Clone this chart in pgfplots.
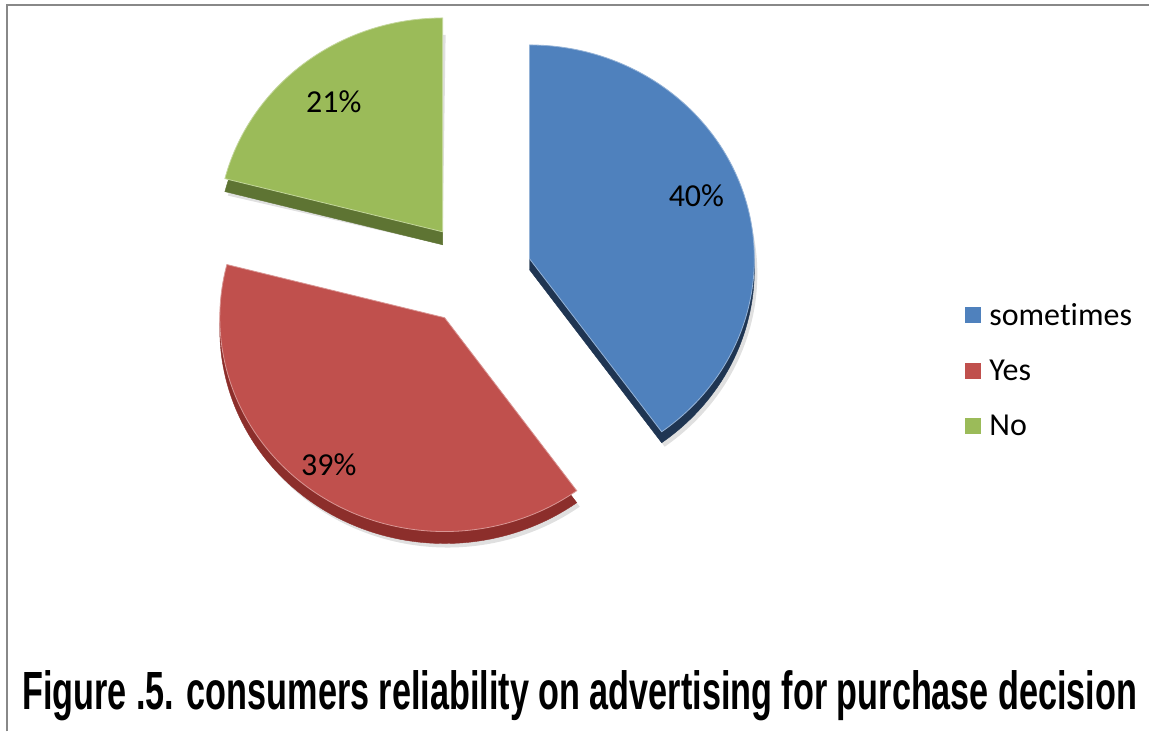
\documentclass[border=0pt]{standalone}
\usepackage{graphicx}
\usepackage{pgfplots}
\pgfplotsset{compat=1.18}
\usepackage{pgfplotstable}
\usepackage{fontspec}
\setmainfont{Carlito}[Ligatures={NoCommon,NoDiscretionary}]
\newfontfamily\titlefont{Liberation Sans}
\definecolor{pblue}{HTML}{4F81BD}
\definecolor{pred}{HTML}{C0504D}
\definecolor{pgreen}{HTML}{9BBB59}
\definecolor{dblue}{HTML}{1F3552}
\definecolor{dred}{HTML}{8C2E2B}
\definecolor{dgreen}{HTML}{5E7433}
\definecolor{frame}{HTML}{888888}

\pgfplotstableread{
label value
sometimes 40
Yes 39
No 21
}\piedata

% cx, cy, shadow cy, from, to, top colour, side colour
\newcommand{\pieslice}[7]{%
  \addplot[forget plot, fill=black, fill opacity=0.12, draw=none, domain=#4:#5, samples=120, variable=\t]
    ({#1+3+225*cos(\t)},{#3+4-214*sin(\t)}) -- (axis cs:#1,#3) -- cycle;
  \addplot[forget plot, fill=#7, draw=#7, domain=#4:#5, samples=120, variable=\t]
    ({#1+225*cos(\t)},{#3-214*sin(\t)}) -- (axis cs:#1,#3) -- cycle;
  \addplot[forget plot, fill=#6, draw=#6!60!white, line width=0.8pt, domain=#4:#5, samples=120, variable=\t]
    ({#1+225*cos(\t)},{#2-214*sin(\t)}) -- (axis cs:#1,#2) -- cycle;
}

\begin{document}
\begin{tikzpicture}
\pgfplotstablegetelem{0}{value}\of\piedata \let\vA\pgfplotsretval
\pgfplotstablegetelem{1}{value}\of\piedata \let\vB\pgfplotsretval
\pgfplotstablegetelem{2}{value}\of\piedata \let\vC\pgfplotsretval
\pgfmathsetmacro{\aA}{90}
\pgfmathsetmacro{\aB}{\aA-3.6*\vA}
\pgfmathsetmacro{\aC}{\aB-3.6*\vB}
\pgfmathsetmacro{\aD}{\aC-3.6*\vC}
\begin{axis}[
  width=1150pt, height=732pt, scale only axis,
  xmin=0, xmax=1150, ymin=0, ymax=732, y dir=reverse,
  hide axis, clip=false,
  legend image code/.code={\fill[#1, draw=none] (0pt,-8pt) rectangle (16pt,8pt);},
  legend style={draw=none, fill=none, at={(axis cs:966,370.5)}, anchor=west,
    font=\fontsize{32}{38}\selectfont, row sep=29pt, inner sep=0pt,
    /tikz/every odd column/.append style={column sep=6pt}},
  legend cell align=left,
]
\path (axis cs:0,0) rectangle (axis cs:1150,732);
% frame
\draw[frame, line width=2pt] (axis cs:7.5,732) -- (axis cs:7.5,5.5) -- (axis cs:1150,5.5);

% green (No)
\pieslice{443}{232}{245}{\aD}{\aC}{pgreen}{dgreen}
% blue (sometimes)
\pieslice{530}{259}{270}{\aB}{\aA}{pblue}{dblue}
% red (Yes)
\pieslice{445}{318}{330}{\aC}{\aB}{pred}{dred}

\addlegendimage{fill=pblue}
\addlegendentry{sometimes}
\addlegendimage{fill=pred}
\addlegendentry{Yes}
\addlegendimage{fill=pgreen}
\addlegendentry{No}

\node[font=\fontsize{32}{38}\selectfont] at (axis cs:697,196) {40\%};
\node[font=\fontsize{32}{38}\selectfont] at (axis cs:334,102) {21\%};
\node[font=\fontsize{32}{38}\selectfont] at (axis cs:329,465) {39\%};

\node[anchor=base west, inner sep=0pt] at (axis cs:22,710)
  {\resizebox{1116pt}{39pt}{\titlefont\bfseries Figure .5. consumers reliability on advertising for purchase decision}};
\end{axis}
\end{tikzpicture}
\end{document}
